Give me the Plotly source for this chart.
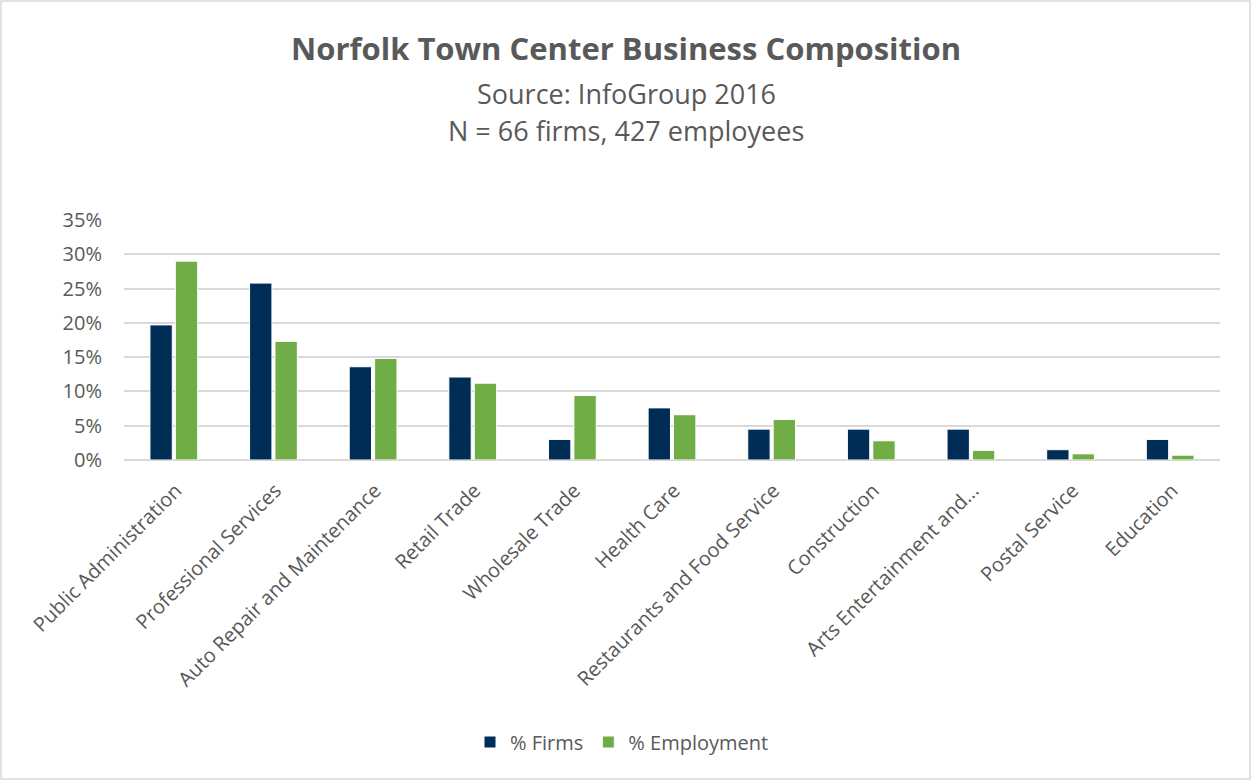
import plotly.graph_objects as go

# Norfolk Town Center business composition (InfoGroup 2016)
categories = [
    "Public Administration", "Professional Services", "Auto Repair and Maintenance",
    "Retail Trade", "Wholesale Trade", "Health Care", "Restaurants and Food Service",
    "Construction", "Arts Entertainment and...", "Postal Service", "Education",
]
pct_firms = [0.197, 0.258, 0.136, 0.121, 0.030, 0.076, 0.045, 0.045, 0.045, 0.015, 0.030]
pct_employment = [0.290, 0.173, 0.148, 0.112, 0.094, 0.066, 0.059, 0.028, 0.014, 0.009, 0.007]

NAVY = "#002D56"
GREEN = "#70AD47"
GREY_TEXT = "#595959"
FONT = "Open Sans"

fig = go.Figure()
fig.add_trace(go.Bar(
    x=categories, y=pct_firms, name="% Firms",
    marker=dict(color=NAVY, line=dict(color="white", width=1)),
))
fig.add_trace(go.Bar(
    x=categories, y=pct_employment, name="% Employment",
    marker=dict(color=GREEN, line=dict(color="white", width=1)),
))

W, H = 1252, 781
L, R, T, B = 124, 32, 220, 321
pw, ph = W - L - R, H - T - B


def px_x(p):
    return (p - L) / pw


def px_y(p):
    return (H - B - p) / ph


fig.update_layout(
    width=W, height=H,
    margin=dict(l=L, r=R, t=T, b=B),
    paper_bgcolor="white", plot_bgcolor="white",
    font=dict(family=FONT, color=GREY_TEXT, size=20),
    barmode="group", bargap=0.49, bargroupgap=0.12,
    showlegend=True,
    legend=dict(
        orientation="h", x=px_x(622), xanchor="center", y=px_y(742), yanchor="middle",
        font=dict(size=20, color=GREY_TEXT), traceorder="normal",
    ),
    xaxis=dict(
        tickangle=-45, showgrid=False, showline=False, ticks="",
        ticklabelstandoff=14, ticklabelshift=2,
        tickfont=dict(size=20, color=GREY_TEXT),
    ),
    yaxis=dict(
        range=[0, 0.35], dtick=0.05, tickformat=".0%",
        showgrid=True, gridcolor="#D9D9D9", gridwidth=1.5,
        zeroline=True, zerolinecolor="#D9D9D9", zerolinewidth=1.5,
        showline=False, ticks="", ticklabelstandoff=21,
        tickfont=dict(size=20, color=GREY_TEXT),
    ),
)

# Title block
fig.add_annotation(
    x=px_x(626), y=px_y(48), xref="paper", yref="paper", showarrow=False,
    yanchor="middle", xanchor="center",
    text="<b>Norfolk Town Center Business Composition</b>",
    font=dict(size=31, color=GREY_TEXT, family=FONT),
)
fig.add_annotation(
    x=px_x(626), y=px_y(93), xref="paper", yref="paper", showarrow=False, yanchor="middle",
    text="Source: InfoGroup 2016",
    font=dict(size=27, color=GREY_TEXT, family=FONT),
)
fig.add_annotation(
    x=px_x(626), y=px_y(130), xref="paper", yref="paper", showarrow=False, yanchor="middle",
    text="N = 66 firms, 427 employees",
    font=dict(size=27, color=GREY_TEXT, family=FONT),
)

# Outer chart border
fig.add_shape(
    type="rect", xref="paper", yref="paper",
    x0=px_x(1), x1=px_x(W - 2), y0=px_y(H - 2), y1=px_y(1),
    line=dict(color="#D9D9D9", width=1.5), fillcolor="rgba(0,0,0,0)",
)

fig.write_html(
    "out.html",
    config={"displayModeBar": False},
    post_script="document.body.style.margin='0';",
)
